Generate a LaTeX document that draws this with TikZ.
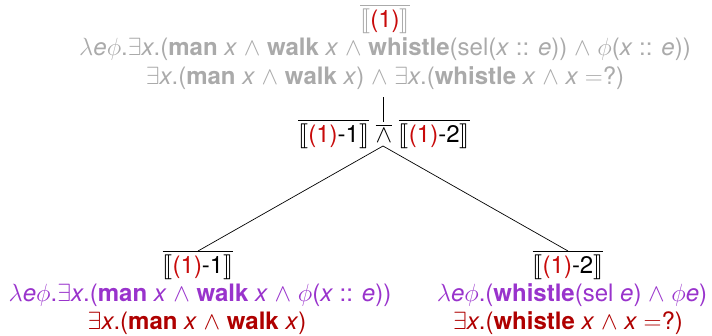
\documentclass[tikz,border=0pt]{standalone}
\usepackage{amsmath}
\usepackage{stmaryrd}
\usepackage{fontspec}
\setmainfont{TeX Gyre Heros}
\definecolor{lgray}{RGB}{170,170,170}
\definecolor{nred}{RGB}{200,10,10}
\definecolor{dred}{RGB}{175,0,0}
\definecolor{purp}{RGB}{153,51,204}
\newcommand{\vx}{\textit{x}}
\newcommand{\ve}{\textit{e}}
\newcommand{\sem}[1]{$\overline{\llbracket\text{#1}\rrbracket}$}
\newcommand{\one}{{\color{nred}(1)}}
\begin{document}
\begin{tikzpicture}[x=1pt,y=-1pt,
  every node/.style={inner sep=0pt,font=\fontsize{24}{28}\selectfont},
  edge/.style={draw=black,line width=0.7pt}]
\useasboundingbox (0,0) rectangle (712,335);
% top
\node[lgray] (t0) at (385,19) {\sem{\one}};
\node[lgray] (t1) at (385,49) {$\lambda$\ve$\phi$.$\exists$\vx.(\textbf{man} \vx{} $\wedge$ \textbf{walk} \vx{} $\wedge$ \textbf{whistle}(sel(\vx{} :: \ve)) $\wedge$ $\phi$(\vx{} :: \ve))};
\node[lgray] (t2) at (385,78) {$\exists$\vx.(\textbf{man} \vx{} $\wedge$ \textbf{walk} \vx) $\wedge$ $\exists$\vx.(\textbf{whistle} \vx{} $\wedge$ \vx{} $=$?)};
% middle
\node (m) at (384,134) {\sem{\one-1} $\overline{\wedge}$ \sem{\one-2}};
\coordinate (mtop) at (383,122);
\coordinate (mbot) at (383,146);
\coordinate (ttop) at (383,97);
% left
\node (l0) at (198,265) {\sem{\one-1}};
\node[purp] (l1) at (200,295) {$\lambda$\ve$\phi$.$\exists$\vx.(\textbf{man} \vx{} $\wedge$ \textbf{walk} \vx{} $\wedge$ $\phi$(\vx{} :: \ve))};
\node[dred] (l2) at (197,323) {$\exists$\vx.(\textbf{man} \vx{} $\wedge$ \textbf{walk} \vx)};
% right
\node (r0) at (568,265) {\sem{\one-2}};
\node[purp] (r1) at (572,295) {$\lambda$\ve$\phi$.(\textbf{whistle}(sel \ve) $\wedge$ $\phi$\ve)};
\node[dred] (r2) at (568,323) {$\exists$\vx.(\textbf{whistle} \vx{} $\wedge$ \vx{} $=$?)};
\coordinate (ltop) at (198,251);
\coordinate (rtop) at (568,251);
\draw[edge] (ttop) -- (mtop);
\draw[edge] (mbot) -- (ltop);
\draw[edge] (mbot) -- (rtop);
\end{tikzpicture}
\end{document}
